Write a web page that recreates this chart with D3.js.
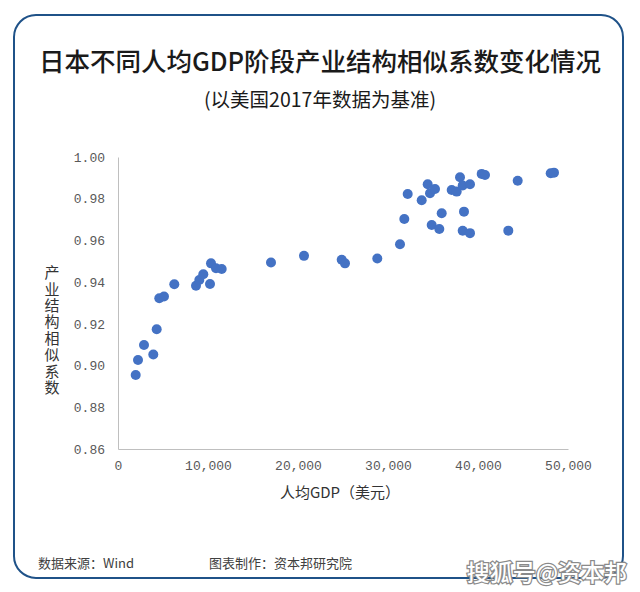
<!DOCTYPE html>
<html>
<head>
<meta charset="utf-8">
<script src="https://cdn.jsdelivr.net/npm/d3@7/dist/d3.min.js"></script>
<style>
  html, body { margin: 0; padding: 0; background: #ffffff; }
  svg { display: block; }
</style>
</head>
<body>
<svg id="chart" width="640" height="592"></svg>
<script>
// ---- data (人均GDP in USD, similarity coefficient) ----
const gdpPerCapita = [
  1967, 2222, 2889, 3922, 4300, 4589, 5111, 6256, 8667, 9033,
  9478, 10222, 10333, 10889, 11522, 17000, 20667, 24856, 25222, 28811,
  31333, 31811, 32189, 33744, 34411, 34667, 35222, 34856, 35700, 35967,
  37078, 37633, 38000, 38300, 39111, 38444, 38300, 39111, 40411, 40778,
  43367, 44411, 48078, 48444
];
const similarity = [
  0.8955, 0.9027, 0.9099, 0.9053, 0.9174, 0.9323, 0.9331, 0.9390, 0.9383, 0.9410,
  0.9438, 0.9391, 0.9490, 0.9467, 0.9463, 0.9494, 0.9526, 0.9507, 0.9490, 0.9513,
  0.9582, 0.9703, 0.9823, 0.9793, 0.9869, 0.9826, 0.9847, 0.9674, 0.9655, 0.9730,
  0.9842, 0.9834, 0.9903, 0.9863, 0.9869, 0.9738, 0.9646, 0.9635, 0.9919, 0.9914,
  0.9647, 0.9886, 0.9922, 0.9925
];
const xTicks = [0, 10000, 20000, 30000, 40000, 50000];
const yTicks = [0.86, 0.88, 0.90, 0.92, 0.94, 0.96, 0.98, 1.00];

const title = "日本不同人均GDP阶段产业结构相似系数变化情况";
const subtitle = "(以美国2017年数据为基准)";
const xTitle = "人均GDP（美元）";
const yTitle = "产业结构相似系数";
const source = "数据来源：Wind";
const maker = "图表制作：资本邦研究院";
const watermark = "搜狐号@资本邦";

const points = gdpPerCapita.map((g, i) => ({ x: g, y: similarity[i] }));

const svg = d3.select("#chart");
const cjk = "'Noto Sans CJK SC', 'Noto Sans', sans-serif";
const numFont = "'Liberation Mono', 'DejaVu Sans Mono', monospace";

// frame
svg.append("rect")
  .attr("x", 14).attr("y", 15).attr("width", 609).attr("height", 563)
  .attr("rx", 22).attr("ry", 22)
  .attr("fill", "#ffffff").attr("stroke", "#1f5288").attr("stroke-width", 2);

// titles
svg.append("text").attr("x", 320).attr("y", 71)
  .attr("text-anchor", "middle").attr("font-family", cjk)
  .attr("font-size", 25.5).attr("font-weight", 500).attr("fill", "#1a1a1a")
  .text(title);
svg.append("text").attr("x", 320).attr("y", 107)
  .attr("text-anchor", "middle").attr("font-family", cjk)
  .attr("font-size", 19.5).attr("fill", "#1a1a1a")
  .text(subtitle);

// scales
const x = d3.scaleLinear().domain([0, 50000]).range([118, 568]);
const y = d3.scaleLinear().domain([0.86, 1.00]).range([449, 157]);

// axes
const xAxis = d3.axisBottom(x).tickValues(xTicks).tickSize(0).tickSizeOuter(0)
  .tickPadding(12).tickFormat(d3.format(","));
const yAxis = d3.axisLeft(y).tickValues(yTicks).tickSize(0).tickSizeOuter(0)
  .tickPadding(13).tickFormat(d3.format(".2f"));

const gx = svg.append("g").attr("transform", `translate(0,${y(0.86)})`).call(xAxis);
const gy = svg.append("g").attr("transform", `translate(${x(0)},0)`).call(yAxis);
[gx, gy].forEach(g => {
  g.select(".domain").attr("stroke", "#bfbfbf").attr("stroke-width", 1);
  g.selectAll("text").attr("font-family", numFont).attr("font-size", 13).attr("fill", "#595959");
});

// axis titles
svg.append("text").attr("x", 340).attr("y", 498)
  .attr("text-anchor", "middle").attr("font-family", cjk)
  .attr("font-size", 15).attr("fill", "#333333")
  .text(xTitle);

// vertical (stacked) y-axis title as a single text
svg.append("text")
  .attr("x", 52).attr("y", 265)
  .attr("font-family", cjk).attr("font-size", 15).attr("fill", "#333333")
  .style("writing-mode", "vertical-rl")
  .style("text-orientation", "upright")
  .style("letter-spacing", "1.4px")
  .text(yTitle);

// points
svg.append("g").selectAll("circle").data(points).join("circle")
  .attr("cx", d => x(d.x)).attr("cy", d => y(d.y)).attr("r", 5)
  .attr("fill", "#4472c4");

// footer
svg.append("text").attr("x", 38).attr("y", 568).attr("font-family", cjk)
  .attr("font-size", 13).attr("fill", "#404040").text(source);
svg.append("text").attr("x", 209).attr("y", 568).attr("font-family", cjk)
  .attr("font-size", 13).attr("fill", "#404040").text(maker);

// platform watermark
svg.append("text").attr("x", 627).attr("y", 581).attr("text-anchor", "end")
  .attr("font-family", cjk).attr("font-size", 23).attr("font-weight", 500)
  .attr("fill", "#ffffff").attr("stroke", "#8a8a8a").attr("stroke-width", 2.5)
  .attr("paint-order", "stroke").text(watermark);
</script>
</body>
</html>
